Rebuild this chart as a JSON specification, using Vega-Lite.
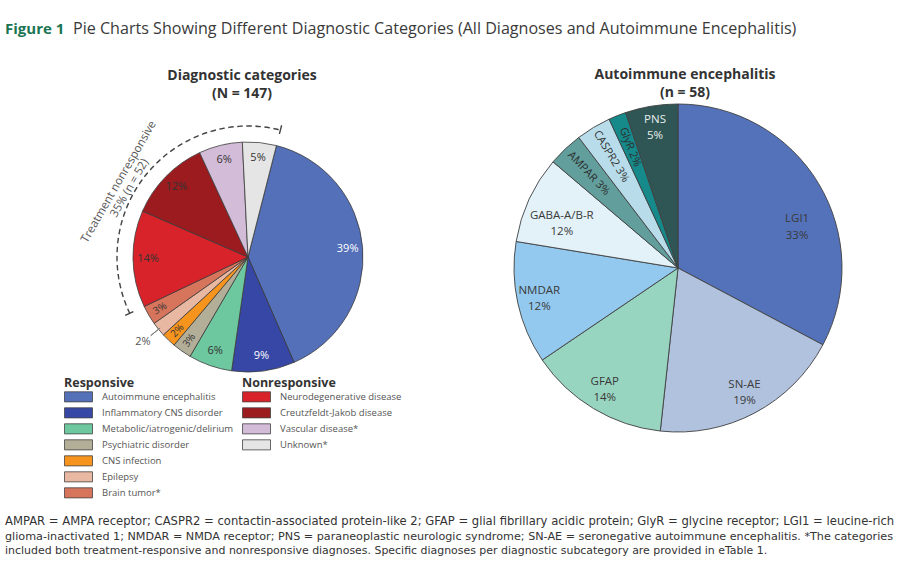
{
  "$schema": "https://vega.github.io/schema/vega-lite/v6.json",
  "width": 899,
  "height": 572,
  "padding": 0,
  "autosize": {"type": "none"},
  "background": "white",
  "config": {
    "view": {"stroke": null},
    "font": "Open Sans",
    "legend": {
      "orient": "none",
      "symbolType": "M-1,-0.36H1V0.36H-1Z",
      "symbolSize": 784,
      "symbolStrokeColor": "#444444",
      "symbolStrokeWidth": 0.8,
      "symbolOpacity": 1,
      "labelFont": "Open Sans",
      "labelFontSize": 9.5,
      "labelColor": "#555555",
      "labelOffset": 9,
      "titleFont": "Open Sans",
      "titleFontSize": 12.5,
      "titleFontWeight": "bold",
      "titleColor": "#333333",
      "titlePadding": 1,
      "clipHeight": 12.7,
      "rowPadding": 3,
      "padding": 0,
      "symbolOffset": 0
    }
  },
  "datasets": {
    "left": [
      {"category": "Autoimmune encephalitis", "group": "Responsive", "count": 58, "label": "39%"},
      {"category": "Inflammatory CNS disorder", "group": "Responsive", "count": 13, "label": "9%"},
      {"category": "Metabolic/iatrogenic/delirium", "group": "Responsive", "count": 9, "label": "6%"},
      {"category": "Psychiatric disorder", "group": "Responsive", "count": 4, "label": "3%"},
      {"category": "CNS infection", "group": "Responsive", "count": 3, "label": "2%"},
      {"category": "Epilepsy", "group": "Responsive", "count": 3, "label": "2%"},
      {"category": "Brain tumor*", "group": "Responsive", "count": 4, "label": "3%"},
      {"category": "Neurodegenerative disease", "group": "Nonresponsive", "count": 20, "label": "14%"},
      {"category": "Creutzfeldt-Jakob disease", "group": "Nonresponsive", "count": 17, "label": "12%"},
      {"category": "Vascular disease*", "group": "Nonresponsive", "count": 9, "label": "6%"},
      {"category": "Unknown*", "group": "Nonresponsive", "count": 7, "label": "5%"}
    ],
    "ae": [
      {"antibody": "LGI1", "count": 19, "pct": "33%"},
      {"antibody": "SN-AE", "count": 11, "pct": "19%"},
      {"antibody": "GFAP", "count": 8, "pct": "14%"},
      {"antibody": "NMDAR", "count": 7, "pct": "12%"},
      {"antibody": "GABA-A/B-R", "count": 5, "pct": "12%"},
      {"antibody": "AMPAR", "count": 2, "pct": "3%"},
      {"antibody": "CASPR2", "count": 2, "pct": "3%"},
      {"antibody": "GlyR", "count": 1, "pct": "2%"},
      {"antibody": "PNS", "count": 3, "pct": "5%"}
    ]
  },
  "layer": [
    {
      "data": {"values": [{}]},
      "mark": {"type": "rule", "x": 0, "x2": 899, "y": 4.5, "y2": 4.5, "stroke": "#1e6b4f", "strokeWidth": 4},
      "encoding": {}
    },
    {
      "data": {"values": [{}]},
      "mark": {"type": "rule", "x": 0, "x2": 899, "y": 51.5, "y2": 51.5, "stroke": "#8fbfae", "strokeWidth": 2},
      "encoding": {}
    },
    {
      "data": {"values": [{}]},
      "mark": {"type": "text", "x": 5, "y": 29, "align": "left", "baseline": "middle", "fontSize": 15, "fontWeight": "bold", "color": "#1b7553", "text": "Figure 1"},
      "encoding": {}
    },
    {
      "data": {"values": [{}]},
      "mark": {"type": "text", "x": 73, "y": 29, "align": "left", "baseline": "middle", "fontSize": 16.1, "color": "#3a3a3a", "text": "Pie Charts Showing Different Diagnostic Categories (All Diagnoses and Autoimmune Encephalitis)"},
      "encoding": {}
    },
    {
      "data": {"values": [{}]},
      "mark": {"type": "rule", "x": 277, "y": 144, "x2": 643, "y2": 108, "stroke": "#707070", "strokeWidth": 1.3},
      "encoding": {}
    },
    {
      "data": {"values": [{}]},
      "mark": {"type": "rule", "x": 295, "y": 360, "x2": 623, "y2": 420, "stroke": "#707070", "strokeWidth": 1.3},
      "encoding": {}
    },
    {
      "data": {"name": "left"},
      "transform": [
        {"stack": "count", "groupby": [], "as": ["t0", "t1"]},
        {"filter": "datum.group === 'Responsive'"}
      ],
      "mark": {"type": "arc", "x": 248, "y": 257, "radius": 115, "stroke": "#3a3a3a", "strokeWidth": 0.8},
      "encoding": {
        "theta": {"field": "t0", "type": "quantitative", "scale": {"domain": [0, 147], "range": [0.25, 6.5332]}},
        "theta2": {"field": "t1"},
        "color": {
          "field": "category", "type": "nominal",
          "scale": {
            "domain": ["Autoimmune encephalitis", "Inflammatory CNS disorder", "Metabolic/iatrogenic/delirium", "Psychiatric disorder", "CNS infection", "Epilepsy", "Brain tumor*"],
            "range": ["#5470b9", "#3647a6", "#6dc79f", "#b3ae98", "#f7941e", "#e9b8a3", "#d7745c"]
          },
          "legend": {"title": "Responsive", "legendX": 64, "legendY": 377}
        }
      }
    },
    {
      "data": {"name": "left"},
      "transform": [
        {"stack": "count", "groupby": [], "as": ["t0", "t1"]},
        {"filter": "datum.group === 'Nonresponsive'"}
      ],
      "mark": {"type": "arc", "x": 248, "y": 257, "radius": 115, "stroke": "#3a3a3a", "strokeWidth": 0.8},
      "encoding": {
        "theta": {"field": "t0", "type": "quantitative", "scale": {"domain": [0, 147], "range": [0.25, 6.5332]}},
        "theta2": {"field": "t1"},
        "color": {
          "field": "category", "type": "nominal",
          "scale": {
            "domain": ["Neurodegenerative disease", "Creutzfeldt-Jakob disease", "Vascular disease*", "Unknown*"],
            "range": ["#d8232a", "#9b1b1f", "#d3bcd8", "#e5e5e5"]
          },
          "legend": {"title": "Nonresponsive", "legendX": 242, "legendY": 377}
        }
      }
    },
    {
      "data": {"name": "left"},
      "transform": [
        {"stack": "count", "groupby": [], "as": ["t0", "t1"]},
        {"calculate": "(datum.t0 + datum.t1) / 2", "as": "mid"},
        {"filter": "datum.count >= 7"}
      ],
      "mark": {"type": "text", "x": 248, "y": 257, "radius": 100, "fontSize": 11, "align": "center", "baseline": "middle"},
      "encoding": {
        "theta": {"field": "mid", "type": "quantitative", "scale": {"domain": [0, 147], "range": [0.25, 6.5332]}},
        "text": {"field": "label"},
        "color": {"condition": {"test": "datum.category === 'Autoimmune encephalitis' || datum.category === 'Inflammatory CNS disorder'", "value": "#ffffff"}, "value": "#333333"}
      }
    },
    {
      "data": {"name": "left"},
      "transform": [
        {"stack": "count", "groupby": [], "as": ["t0", "t1"]},
        {"calculate": "(datum.t0 + datum.t1) / 2", "as": "mid"},
        {"calculate": "(0.25 + datum.mid / 147 * 2 * PI) * 180 / PI - 270", "as": "rot"},
        {"filter": "datum.count < 7 && datum.category !== 'Epilepsy'"}
      ],
      "mark": {"type": "text", "x": 248, "y": 257, "radius": 102, "fontSize": 10, "align": "center", "baseline": "middle", "color": "#333333"},
      "encoding": {
        "theta": {"field": "mid", "type": "quantitative", "scale": {"domain": [0, 147], "range": [0.25, 6.5332]}},
        "angle": {"field": "rot", "type": "quantitative", "scale": null},
        "text": {"field": "label"}
      }
    },
    {
      "data": {"name": "left"},
      "transform": [
        {"stack": "count", "groupby": [], "as": ["t0", "t1"]},
        {"calculate": "(datum.t0 + datum.t1) / 2", "as": "mid"},
        {"filter": "datum.category === 'Epilepsy'"}
      ],
      "layer": [
        {
          "mark": {"type": "arc", "x": 248, "y": 257, "radius": 125, "radius2": 113, "filled": false, "stroke": "#777777", "strokeWidth": 1},
          "encoding": {
            "theta": {"field": "mid", "type": "quantitative", "scale": {"domain": [0, 147], "range": [0.25, 6.5332]}},
            "theta2": {"field": "mid"}
          }
        },
        {
          "mark": {"type": "text", "x": 248, "y": 257, "radius": 135, "fontSize": 11, "align": "center", "baseline": "middle", "color": "#555555"},
          "encoding": {
            "theta": {"field": "mid", "type": "quantitative", "scale": {"domain": [0, 147], "range": [0.25, 6.5332]}},
            "text": {"field": "label"}
          }
        }
      ]
    },
    {
      "data": {"name": "left"},
      "transform": [
        {"stack": "count", "groupby": [], "as": ["t0", "t1"]},
        {"filter": "datum.group === 'Nonresponsive'"},
        {"aggregate": [{"op": "min", "field": "t0", "as": "a0"}, {"op": "max", "field": "t1", "as": "a1"}]}
      ],
      "mark": {"type": "arc", "x": 248, "y": 257, "radius": 131, "radius2": 131, "filled": false, "stroke": "#444444", "strokeWidth": 1.4, "strokeDash": [5, 4.054]},
      "encoding": {
        "theta": {"field": "a0", "type": "quantitative", "scale": {"domain": [0, 147], "range": [0.25, 6.5332]}},
        "theta2": {"field": "a1"}
      }
    },
    {
      "data": {"name": "left"},
      "transform": [
        {"stack": "count", "groupby": [], "as": ["t0", "t1"]},
        {"filter": "datum.group === 'Nonresponsive'"},
        {"aggregate": [{"op": "min", "field": "t0", "as": "a0"}, {"op": "max", "field": "t1", "as": "a1"}]},
        {"fold": ["a0", "a1"], "as": ["end", "pos"]}
      ],
      "mark": {"type": "arc", "x": 248, "y": 257, "radius": 136, "radius2": 127, "filled": false, "stroke": "#444444", "strokeWidth": 1.4},
      "encoding": {
        "theta": {"field": "pos", "type": "quantitative", "scale": {"domain": [0, 147], "range": [0.25, 6.5332]}},
        "theta2": {"field": "pos"}
      }
    },
    {
      "data": {"values": [{}]},
      "mark": {"type": "text", "x": 119, "y": 182, "angle": -60, "align": "center", "baseline": "middle", "fontSize": 11.5, "lineHeight": 12.5, "color": "#555555", "text": ["Treatment nonresponsive", "35% (n = 52)"]},
      "encoding": {}
    },
    {
      "data": {"values": [{}]},
      "mark": {"type": "text", "x": 242, "y": 76, "align": "center", "baseline": "middle", "fontSize": 14, "fontWeight": "bold", "color": "#333333", "text": "Diagnostic categories"},
      "encoding": {}
    },
    {
      "data": {"values": [{}]},
      "mark": {"type": "text", "x": 242, "y": 94, "align": "center", "baseline": "middle", "fontSize": 14, "fontWeight": "bold", "color": "#333333", "text": "(N = 147)"},
      "encoding": {}
    },
    {
      "data": {"name": "ae"},
      "transform": [{"stack": "count", "groupby": [], "as": ["r0", "r1"]}],
      "mark": {"type": "arc", "x": 678, "y": 268, "radius": 164, "stroke": "#3f3f3f", "strokeWidth": 0.9},
      "encoding": {
        "theta": {"field": "r0", "type": "quantitative", "scale": {"domain": [0, 58], "range": [0, 6.283185]}},
        "theta2": {"field": "r1"},
        "color": {
          "field": "antibody", "type": "nominal",
          "scale": {
            "domain": ["LGI1", "SN-AE", "GFAP", "NMDAR", "GABA-A/B-R", "AMPAR", "CASPR2", "GlyR", "PNS"],
            "range": ["#5472ba", "#b1c2df", "#98d5c0", "#93c9ef", "#e3f2f8", "#619e9c", "#b8dcea", "#16898b", "#2f5654"]
          },
          "legend": null
        }
      }
    },
    {
      "data": {"name": "ae"},
      "transform": [
        {"stack": "count", "groupby": [], "as": ["r0", "r1"]},
        {"calculate": "(datum.r0 + datum.r1) / 2", "as": "mid"},
        {"calculate": "[datum.antibody, datum.pct]", "as": "lines"},
        {"filter": "datum.count >= 3 && datum.antibody !== 'LGI1' && datum.antibody !== 'GABA-A/B-R'"}
      ],
      "mark": {"type": "text", "x": 678, "y": 268, "radius": 142, "dy": -8, "fontSize": 11.5, "lineHeight": 16, "align": "center", "baseline": "middle"},
      "encoding": {
        "theta": {"field": "mid", "type": "quantitative", "scale": {"domain": [0, 58], "range": [0, 6.283185]}},
        "text": {"field": "lines"},
        "color": {"condition": {"test": "datum.antibody === 'PNS'", "value": "#e8eeee"}, "value": "#3a3a3a"}
      }
    },
    {
      "data": {"name": "ae"},
      "transform": [
        {"stack": "count", "groupby": [], "as": ["r0", "r1"]},
        {"calculate": "(datum.r0 + datum.r1) / 2", "as": "mid"},
        {"calculate": "[datum.antibody, datum.pct]", "as": "lines"},
        {"filter": "datum.antibody === 'GABA-A/B-R'"}
      ],
      "mark": {"type": "text", "x": 678, "y": 268, "radius": 128, "dy": 2, "fontSize": 11.5, "lineHeight": 16, "align": "center", "baseline": "middle", "color": "#3a3a3a"},
      "encoding": {
        "theta": {"field": "mid", "type": "quantitative", "scale": {"domain": [0, 58], "range": [0, 6.283185]}},
        "text": {"field": "lines"}
      }
    },
    {
      "data": {"name": "ae"},
      "transform": [
        {"stack": "count", "groupby": [], "as": ["r0", "r1"]},
        {"calculate": "(datum.r0 + datum.r1) / 2", "as": "mid"},
        {"calculate": "[datum.antibody, datum.pct]", "as": "lines"},
        {"filter": "datum.antibody === 'LGI1'"}
      ],
      "mark": {"type": "text", "x": 678, "y": 268, "radius": 125, "dx": 12, "dy": 15, "fontSize": 11.5, "lineHeight": 17, "align": "center", "baseline": "middle", "color": "#3a3a3a"},
      "encoding": {
        "theta": {"field": "mid", "type": "quantitative", "scale": {"domain": [0, 58], "range": [0, 6.283185]}},
        "text": {"field": "lines"}
      }
    },
    {
      "data": {"name": "ae"},
      "transform": [
        {"stack": "count", "groupby": [], "as": ["r0", "r1"]},
        {"calculate": "(datum.r0 + datum.r1) / 2", "as": "mid"},
        {"calculate": "datum.mid / 58 * 360 - 270", "as": "rot"},
        {"calculate": "datum.antibody + ' ' + datum.pct", "as": "line"},
        {"filter": "datum.count < 3"}
      ],
      "mark": {"type": "text", "x": 678, "y": 268, "radius": 130, "fontSize": 11, "align": "center", "baseline": "middle", "color": "#2e2e2e"},
      "encoding": {
        "theta": {"field": "mid", "type": "quantitative", "scale": {"domain": [0, 58], "range": [0, 6.283185]}},
        "angle": {"field": "rot", "type": "quantitative", "scale": null},
        "text": {"field": "line"}
      }
    },
    {
      "data": {"values": [{}]},
      "mark": {"type": "text", "x": 685, "y": 75, "align": "center", "baseline": "middle", "fontSize": 14, "fontWeight": "bold", "color": "#333333", "text": "Autoimmune encephalitis"},
      "encoding": {}
    },
    {
      "data": {"values": [{}]},
      "mark": {"type": "text", "x": 685, "y": 93, "align": "center", "baseline": "middle", "fontSize": 14, "fontWeight": "bold", "color": "#333333", "text": "(n = 58)"},
      "encoding": {}
    },
    {
      "data": {"values": [{}]},
      "mark": {"type": "text", "x": 5, "y": 522, "align": "left", "baseline": "middle", "font": "DejaVu Sans", "fontSize": 11.6, "color": "#333333", "text": "AMPAR = AMPA receptor; CASPR2 = contactin-associated protein-like 2; GFAP = glial fibrillary acidic protein; GlyR = glycine receptor; LGI1 = leucine-rich"},
      "encoding": {}
    },
    {
      "data": {"values": [{}]},
      "mark": {"type": "text", "x": 5, "y": 536.5, "align": "left", "baseline": "middle", "font": "DejaVu Sans", "fontSize": 11.2, "color": "#333333", "text": "glioma-inactivated 1; NMDAR = NMDA receptor; PNS = paraneoplastic neurologic syndrome; SN-AE = seronegative autoimmune encephalitis. *The categories"},
      "encoding": {}
    },
    {
      "data": {"values": [{}]},
      "mark": {"type": "text", "x": 5, "y": 550.5, "align": "left", "baseline": "middle", "font": "DejaVu Sans", "fontSize": 10.95, "color": "#333333", "text": "included both treatment-responsive and nonresponsive diagnoses. Specific diagnoses per diagnostic subcategory are provided in eTable 1."},
      "encoding": {}
    }
  ],
  "resolve": {"scale": {"color": "independent", "theta": "independent"}}
}
